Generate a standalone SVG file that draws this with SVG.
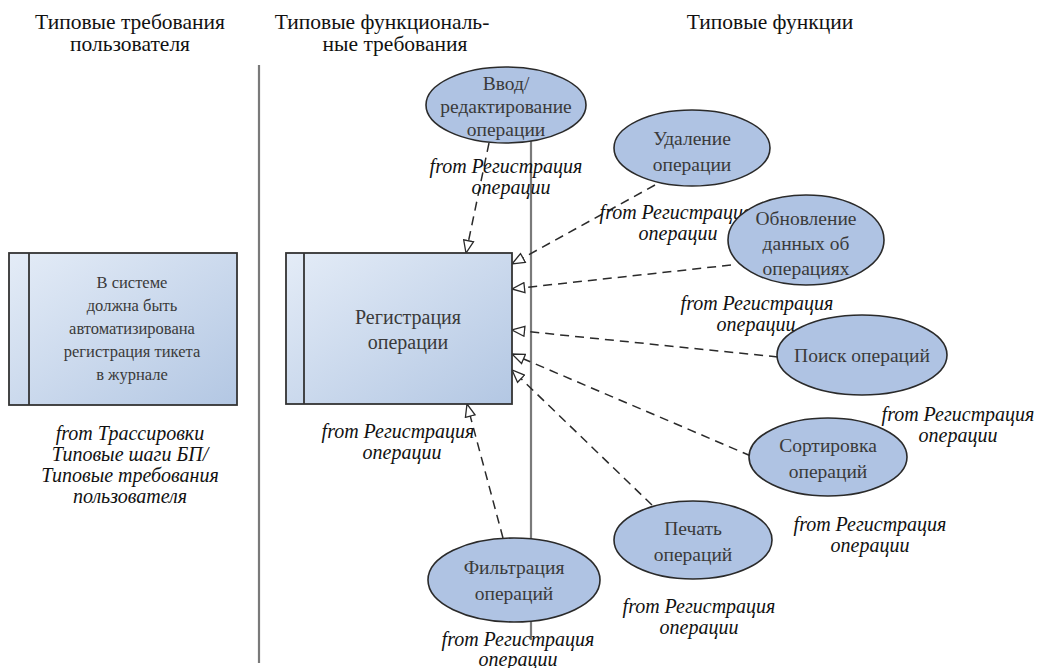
<svg xmlns="http://www.w3.org/2000/svg" width="1045" height="668" viewBox="0 0 1045 668">
<style>
text{font-family:"Liberation Serif","Times New Roman",serif}
.hdr{font-size:21.5px;fill:#111;text-anchor:middle}
.cap{font-size:20px;font-style:italic;fill:#111;text-anchor:middle}
.bt{font-size:16.5px;fill:#3a3a3a;text-anchor:middle}
.mt{font-size:20px;fill:#3a3a3a;text-anchor:middle}
.et{font-size:19.5px;fill:#3a3a3a;text-anchor:middle}
.ell{fill:#afc3e3;stroke:#2a2a2a;stroke-width:1.6}
.box{fill:url(#g);stroke:#333;stroke-width:1.8}
.sep{stroke:#7a7a7a;stroke-width:2.2;fill:none}
.dep{stroke:#2a2a2a;stroke-width:1.5;stroke-dasharray:9,6;fill:none;marker-end:url(#tri)}
</style>
<defs>
<linearGradient id="g" x1="0" y1="0" x2="1" y2="1">
<stop offset="0" stop-color="#e4ecf7"/>
<stop offset="1" stop-color="#b3c7e3"/>
</linearGradient>
<marker id="tri" viewBox="0 0 14 12" refX="13.5" refY="6" markerWidth="14" markerHeight="12" markerUnits="userSpaceOnUse" orient="auto">
<path d="M1,1 L13.5,6 L1,11 Z" fill="#fff" stroke="#2a2a2a" stroke-width="1.3" stroke-dasharray="none"/>
</marker>
</defs>
<rect width="1045" height="668" fill="#fff"/>
<g id="headers">
<text class="hdr" x="130" y="29">Типовые требования</text>
<text class="hdr" x="130" y="51">пользователя</text>
<text class="hdr" x="382" y="29">Типовые функциональ-</text>
<text class="hdr" x="395" y="51">ные требования</text>
<text class="hdr" x="770" y="29">Типовые функции</text>
</g>
<line class="sep" x1="259" y1="65" x2="259" y2="663"/>
<line class="sep" x1="531" y1="120" x2="531" y2="640"/>
<g id="connectors">
<line class="dep" x1="489" y1="143" x2="466" y2="253"/>
<line class="dep" x1="655" y1="185" x2="512" y2="264"/>
<line class="dep" x1="731" y1="265" x2="512" y2="289"/>
<line class="dep" x1="778" y1="357" x2="512" y2="330"/>
<line class="dep" x1="751" y1="456" x2="512" y2="354"/>
<line class="dep" x1="652" y1="505" x2="512" y2="370"/>
<line class="dep" x1="503" y1="538" x2="467" y2="404"/>
</g>
<g id="req">
<rect class="box" x="9" y="253" width="228" height="152"/>
<line x1="29" y1="253" x2="29" y2="405" stroke="#333" stroke-width="1.8"/>
<text class="bt" x="132" y="288">В системе</text>
<text class="bt" x="132" y="311">должна быть</text>
<text class="bt" x="132" y="334">автоматизирована</text>
<text class="bt" x="132" y="357">регистрация тикета</text>
<text class="bt" x="132" y="380">в журнале</text>
<text class="cap" x="130" y="440">from Трассировки</text>
<text class="cap" x="130" y="461">Типовые шаги БП/</text>
<text class="cap" x="130" y="482">Типовые требования</text>
<text class="cap" x="130" y="503">пользователя</text>
</g>
<g id="reg">
<rect class="box" x="286" y="253" width="226" height="151"/>
<line x1="304" y1="253" x2="304" y2="404" stroke="#333" stroke-width="1.8"/>
<text class="mt" x="408" y="324">Регистрация</text>
<text class="mt" x="408" y="349">операции</text>
<text class="cap" x="398" y="438">from Регистрация</text>
<text class="cap" x="402" y="459">операции</text>
</g>
<g id="vvod">
<ellipse class="ell" cx="506" cy="105" rx="80" ry="38"/>
<text class="et" x="506" y="90">Ввод/</text>
<text class="et" x="506" y="113">редактирование</text>
<text class="et" x="506" y="136">операции</text>
<text class="cap" x="506" y="173">from Регистрация</text>
<text class="cap" x="511" y="194">операции</text>
</g>
<g id="udal">
<ellipse class="ell" cx="692" cy="148" rx="78" ry="38"/>
<text class="et" x="692" y="145">Удаление</text>
<text class="et" x="692" y="171">операции</text>
<text class="cap" x="676" y="219">from Регистрация</text>
<text class="cap" x="678" y="240">операции</text>
</g>
<g id="obn">
<ellipse class="ell" cx="806" cy="240" rx="78" ry="45"/>
<text class="et" x="806" y="225">Обновление</text>
<text class="et" x="806" y="250">данных об</text>
<text class="et" x="806" y="275">операциях</text>
<text class="cap" x="757" y="310">from Регистрация</text>
<text class="cap" x="756" y="331">операции</text>
</g>
<g id="poisk">
<ellipse class="ell" cx="862" cy="355" rx="85" ry="40"/>
<text class="et" x="862" y="362">Поиск операций</text>
<text class="cap" x="958" y="421">from Регистрация</text>
<text class="cap" x="958" y="442">операции</text>
</g>
<g id="sort">
<ellipse class="ell" cx="828" cy="457" rx="79" ry="39"/>
<text class="et" x="828" y="452">Сортировка</text>
<text class="et" x="828" y="478">операций</text>
<text class="cap" x="870" y="531">from Регистрация</text>
<text class="cap" x="870" y="552">операции</text>
</g>
<g id="pech">
<ellipse class="ell" cx="693" cy="540" rx="79" ry="39"/>
<text class="et" x="693" y="535">Печать</text>
<text class="et" x="693" y="561">операций</text>
<text class="cap" x="699" y="613">from Регистрация</text>
<text class="cap" x="699" y="634">операции</text>
</g>
<g id="filtr">
<ellipse class="ell" cx="514" cy="580" rx="86" ry="42"/>
<text class="et" x="514" y="574">Фильтрация</text>
<text class="et" x="514" y="600">операций</text>
<text class="cap" x="518" y="646">from Регистрация</text>
<text class="cap" x="518" y="666">операции</text>
</g>
</svg>
